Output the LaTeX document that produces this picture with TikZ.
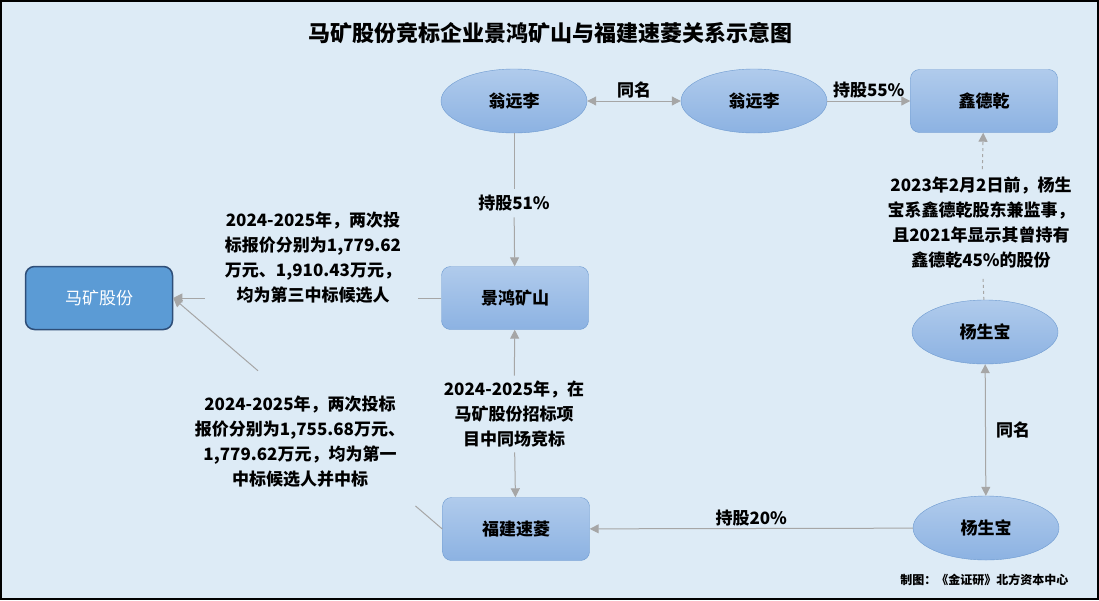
\documentclass[tikz,border=0pt]{standalone}
\usepackage{fontspec}
\setmainfont{Noto Sans CJK SC}
\usepackage{xcolor}
\usetikzlibrary{shapes.geometric,arrows.meta,positioning,calc}
\definecolor{bgblue}{HTML}{DDEBF6}
\definecolor{boxtop}{HTML}{B0CBEC}
\definecolor{boxbot}{HTML}{8CB2E2}
\definecolor{boxline}{HTML}{6D9AD0}
\definecolor{mkfill}{HTML}{5B9BD5}
\definecolor{mkline}{HTML}{2E4E78}
\definecolor{linkgray}{HTML}{A6A6A6}

\begin{document}
\begin{tikzpicture}[x=1pt, y=-1pt,
    person/.style={ellipse, draw=boxline, top color=boxtop, bottom color=boxbot,
        minimum width=146pt, minimum height=64pt, font=\fontsize{17}{20}\selectfont\bfseries},
    firm/.style={rectangle, rounded corners=9pt, draw=boxline, top color=boxtop, bottom color=boxbot,
        minimum width=147pt, minimum height=63pt, font=\fontsize{17}{20}\selectfont\bfseries},
    note/.style={align=center, inner sep=2pt, font=\fontsize{17}{25}\selectfont\bfseries},
    link/.style={draw=linkgray, line width=1pt},
    tip/.style={-{Triangle[length=9pt,width=9pt]}}]
    \useasboundingbox (0,0) rectangle (1099,600);
    \fill [bgblue] (0,0) rectangle (1099,600); % background
    \draw [line width=2pt] (1,1) rectangle (1098,599);
    \node [font=\fontsize{22}{24}\selectfont\bfseries] (title) at (550,33) {马矿股份竞标企业景鸿矿山与福建速菱关系示意图};

    % top row
    \node [person] (wylA) at (514,101) {翁远李};
    \node [person] (wylB) at (754,101) {翁远李};
    \node [firm] (xdq) at (984,101) {鑫德乾};
    % middle
    \node [firm] (jh) at (515,298) {景鸿矿山};
    \node [firm, draw=mkline, line width=1.5pt, fill=mkfill, top color=mkfill, bottom color=mkfill,
        text=white, font=\fontsize{17}{20}\selectfont] (mk) at (99,298) {马矿股份};
    \node [person] (ysbA) at (985,332) {杨生宝};
    % bottom
    \node [firm] (fj) at (516,529) {福建速菱};
    \node [person] (ysbB) at (986,528) {杨生宝};

    % connectors
    \draw [link, {Triangle[length=9pt,width=9pt]}-{Triangle[length=9pt,width=9pt]}] (wylA) -- node [note, above] (same1) {同名} (wylB);
    \draw [link, tip] (wylB) -- node [note, above] (share55) {持股55\%} (xdq);

    \node [note, inner sep=6pt] (share51) at (514,203) {持股51\%};
    \draw [link] (wylA) -- (share51);
    \draw [link, tip] (share51) -- (jh);

    \node [note] (bidA) at (313,258) {2024-2025年，两次投\\标报价分别为1,779.62\\万元、1,910.43万元，\\均为第三中标候选人};
    \draw [link] (jh.west) -- ($(jh.west -| bidA.east)+(15,0)$);
    \draw [link, tip] ($(jh.west -| bidA.west)+(-18,0)$) -- (mk.east);

    \path (fj.west) -- (mk.east) coordinate [pos=0.1] (gapA) coordinate [pos=0.685] (gapB);
    \node [note] (bidB) at (300,442) {2024-2025年，两次投标\\报价分别为1,755.68万元、\\1,779.62万元，均为第一\\中标候选人并中标};
    \draw [link] (fj.west) -- (gapA);
    \draw [link, tip] (gapB) -- (mk.east);

    \node [note, inner sep=5pt] (same2) at (514,414) {2024-2025年，在\\马矿股份招标项\\目中同场竞标};
    \draw [link, tip] (same2) -- (jh);
    \draw [link, tip] (same2) -- (fj);

    \draw [link, tip] (ysbB) -- node [note, above] (share20) {持股20\%} (fj);

    \draw [link, {Triangle[length=9pt,width=9pt]}-{Triangle[length=9pt,width=9pt]}] (ysbA) -- node [note, right=8pt] (same3) {同名} (ysbB);

    \node [note, inner sep=8pt] (super) at (981,223) {2023年2月2日前，杨生\\宝系鑫德乾股东兼监事，\\且2021年显示其曾持有\\鑫德乾45\%的股份};
    \draw [link, dash pattern=on 3pt off 3pt, tip] (super) -- (xdq);
    \draw [link, dash pattern=on 3pt off 3pt] (ysbA) -- (super);

    \node [anchor=east, font=\fontsize{12}{14}\selectfont\bfseries] (credit) at (1072,580) {制图：《金证研》北方资本中心};
\end{tikzpicture}
\end{document}
